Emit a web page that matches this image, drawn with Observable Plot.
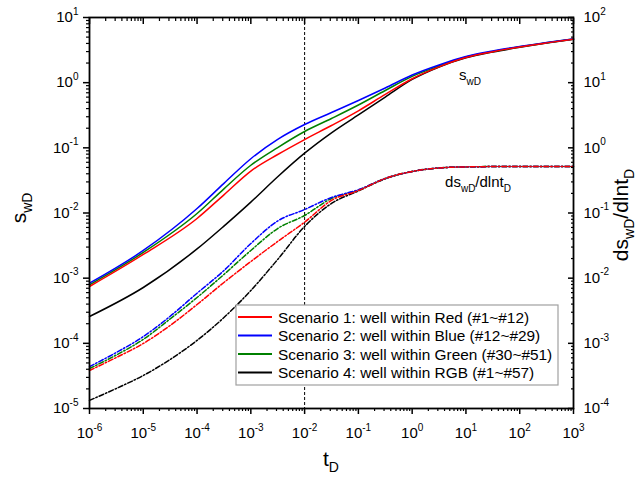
<!DOCTYPE html>
<html><head><meta charset="utf-8">
<script src="https://cdn.jsdelivr.net/npm/d3@7"></script>
<script src="https://cdn.jsdelivr.net/npm/@observablehq/plot@0.6"></script>
<style>html,body{margin:0;padding:0;background:#fff}svg{display:block}</style>
</head><body><div id="chart"></div>
<script>
// ---------- data ----------
const scenarioNames = [
  "Scenario 1: well within Red (#1~#12)",
  "Scenario 2: well within Blue (#12~#29)",
  "Scenario 3: well within Green (#30~#51)",
  "Scenario 4: well within RGB (#1~#57)"
];
const scenarioColors = ["#ff0000", "#0000ff", "#008000", "#000000"];

// dimensionless time for the s_wD curves
const tD = [1e-6, 1e-5, 1e-4, 3.16e-4, 1e-3, 3.16e-3, 1e-2, 3.16e-2, 0.1, 0.316, 1, 3.16, 10, 31.6, 100, 316, 1000];
const sRed   = [7.45e-4, 2.31e-3, 8.24e-3, 1.9e-2, 0.044, 0.079, 0.134, 0.22, 0.37, 0.66, 1.15, 1.75, 2.43, 2.98, 3.53, 4.08, 4.66];
const sBlue  = [8.37e-4, 2.66e-3, 1.17e-2, 2.85e-2, 0.068, 0.135, 0.228, 0.348, 0.532, 0.828, 1.31, 1.87, 2.52, 3.06, 3.59, 4.13, 4.71];
const sGreen = [7.91e-4, 2.48e-3, 9.82e-3, 2.35e-2, 0.054, 0.101, 0.178, 0.282, 0.454, 0.759, 1.25, 1.80, 2.48, 3.01, 3.55, 4.10, 4.68];
const sBlack = [2.58e-4, 7.19e-4, 2.81e-3, 6.3e-3, 1.47e-2, 3.6e-2, 8.28e-2, 0.17, 0.32, 0.60, 1.12, 1.74, 2.41, 2.96, 3.49, 4.05, 4.63];

// dimensionless time for the derivative curves (values in right-axis units)
const tDd = [1e-6, 3.16e-6, 1e-5, 3.16e-5, 1e-4, 3.16e-4, 1e-3, 3.16e-3, 1e-2, 3.16e-2, 0.1, 0.316, 1, 3.16, 10, 100, 1000];
const dRed   = [3.83e-4, 6.07e-4, 9.95e-4, 1.88e-3, 3.94e-3, 8.59e-3, 1.80e-2, 3.66e-2, 7.23e-2, 0.156, 0.221, 0.339, 0.434, 0.491, 0.51, 0.518, 0.518];
const dBlue  = [4.4e-4, 7.24e-4, 1.27e-3, 2.6e-3, 5.88e-3, 1.31e-2, 3.40e-2, 7.54e-2, 0.113, 0.173, 0.227, 0.339, 0.434, 0.491, 0.51, 0.518, 0.518];
const dGreen = [4.11e-4, 6.62e-4, 1.15e-3, 2.37e-3, 5.05e-3, 1.14e-2, 2.66e-2, 5.78e-2, 0.0916, 0.167, 0.225, 0.339, 0.434, 0.491, 0.51, 0.518, 0.518];
const dBlack = [1.33e-4, 2.03e-4, 3.21e-4, 5.65e-4, 1.11e-3, 2.49e-3, 6.47e-3, 1.94e-2, 6.21e-2, 0.14, 0.218, 0.335, 0.434, 0.491, 0.51, 0.518, 0.518];

// tick exponents
const xTickExp = [-6, -5, -4, -3, -2, -1, 0, 1, 2, 3];
const yLeftExp = [-5, -4, -3, -2, -1, 0, 1];
const yRightExp = [-4, -3, -2, -1, 0, 1, 2];
const markerT = 1e-2;

// ---------- tables (drawn black first, red last) ----------
const sSeries = [sRed, sBlue, sGreen, sBlack];
const dSeries = [dRed, dBlue, dGreen, dBlack];
const drawOrder = [3, 2, 1, 0];
const solid = [], deriv = [];
drawOrder.forEach(i => sSeries[i].forEach((v, j) => solid.push({scenario: scenarioNames[i], t: tD[j], s: v})));
drawOrder.forEach(i => dSeries[i].forEach((v, j) => deriv.push({scenario: scenarioNames[i], t: tDd[j], d: v})));

const xMajor = xTickExp.map(e => 10 ** e);
const xMinor = [];
xTickExp.slice(0, -1).forEach(e => { for (let k = 2; k <= 9; k++) xMinor.push(k * 10 ** e); });
const yMajor = yLeftExp.map(e => 10 ** e);
const yMinor = [];
yLeftExp.slice(0, -1).forEach(e => { for (let k = 2; k <= 9; k++) yMinor.push(k * 10 ** e); });
const rightOffset = yRightExp[0] - yLeftExp[0]; // right axis = left axis x 10

const expFmt = d => "10^" + Math.round(Math.log10(d));
const expFmtRight = d => "10^" + (Math.round(Math.log10(d)) + rightOffset);
const blank = () => "";

const FONT = "'Liberation Sans', Arial, Helvetica, sans-serif";

const plot = Plot.plot({
  width: 639, height: 478,
  marginLeft: 89, marginRight: 66, marginTop: 17, marginBottom: 70,
  x: {type: "log", domain: [1e-6, 1e3]},
  y: {type: "log", domain: [1e-5, 1e1]},
  color: {type: "ordinal", domain: scenarioNames, range: scenarioColors},
  style: {fontFamily: FONT, fontSize: "15px", color: "#000", background: "#fff", overflow: "visible"},
  marks: [
    Plot.ruleX([markerT], {stroke: "#000", strokeWidth: 1, strokeDasharray: "3,2"}),
    Plot.line(deriv, {x: "t", y: d => d.d / 10 ** rightOffset, z: "scenario", stroke: "scenario",
      strokeWidth: 1.5, strokeDasharray: "5,2,1.5,2", curve: "monotone-x"}),
    Plot.line(solid, {x: "t", y: "s", z: "scenario", stroke: "scenario", strokeWidth: 1.5, curve: "monotone-x"}),
    // bottom axis (outward ticks)
    Plot.axisX(xMajor, {anchor: "bottom", tickSize: 6, tickPadding: 13, tickFormat: expFmt, label: null, strokeWidth: 1.5}),
    Plot.axisX(xMinor, {anchor: "bottom", tickSize: 3, tickFormat: blank, label: null, strokeWidth: 1.2}),
    // top axis (inward ticks)
    Plot.axisX(xMajor, {anchor: "top", tickSize: -6, tickFormat: blank, label: null, strokeWidth: 1.5}),
    Plot.axisX(xMinor, {anchor: "top", tickSize: -3, tickFormat: blank, label: null, strokeWidth: 1.2}),
    // left axis (outward ticks)
    Plot.axisY(yMajor, {anchor: "left", tickSize: 6, tickPadding: 5, tickFormat: expFmt, label: null, strokeWidth: 1.5}),
    Plot.axisY(yMinor, {anchor: "left", tickSize: 3, tickFormat: blank, label: null, strokeWidth: 1.2}),
    // right axis (inward ticks), labelled in derivative units
    Plot.axisY(yMajor, {anchor: "right", tickSize: -6, tickPadding: 16, tickFormat: expFmtRight, label: null, strokeWidth: 1.5}),
    Plot.axisY(yMinor, {anchor: "right", tickSize: -3, tickFormat: blank, label: null, strokeWidth: 1.2}),
    Plot.frame({stroke: "#000", strokeWidth: 1.8})
  ]
});
document.getElementById("chart").appendChild(plot);

// ---------- superscript tick labels ----------
const svg = d3.select(plot);
svg.selectAll("text").each(function() {
  const txt = this.textContent;
  const m = /^10\^(-?\d+)$/.exec(txt);
  if (!m) return;
  const sel = d3.select(this);
  sel.text(null);
  sel.append("tspan").text("10");
  sel.append("tspan").attr("font-size", "10px").attr("dy", "-0.75em").text(m[1]);
});

// ---------- rich text helper ----------
function rich(x, y, parts, size, subSize, rotate) {
  const t = svg.append("text")
    .attr("font-family", FONT).attr("font-size", size + "px").attr("fill", "#000")
    .attr("text-anchor", "middle")
    .attr("transform", `translate(${x},${y})` + (rotate ? ` rotate(${rotate})` : ""));
  let shifted = 0;
  parts.forEach(p => {
    const sp = t.append("tspan").text(p.t);
    const want = p.sub ? Math.round(size * 0.3) : 0;
    if (want !== shifted) { sp.attr("dy", want - shifted); shifted = want; }
    if (p.sub) sp.attr("font-size", subSize + "px");
  });
  return t;
}

// axis titles
rich(331, 466, [{t: "t"}, {t: "D", sub: true}], 21, 14);
rich(26, 208, [{t: "s"}, {t: "wD", sub: true}], 21, 14, -90);
rich(628, 215, [{t: "ds"}, {t: "wD", sub: true}, {t: "/dlnt"}, {t: "D", sub: true}], 21, 14, -90);

// in-plot annotations
rich(470, 80, [{t: "s"}, {t: "wD", sub: true}], 15, 10);
rich(478, 187, [{t: "ds"}, {t: "wD", sub: true}, {t: "/dlnt"}, {t: "D", sub: true}], 15, 10);

// ---------- legend ----------
const lg = svg.append("g");
lg.append("rect").attr("x", 236).attr("y", 305).attr("width", 322).attr("height", 80)
  .attr("fill", "#fff").attr("stroke", "#a0a0a0").attr("stroke-width", 1.2);
scenarioNames.forEach((name, i) => {
  const yy = 317 + i * 18.5;
  lg.append("line").attr("x1", 238).attr("x2", 272).attr("y1", yy).attr("y2", yy)
    .attr("stroke", scenarioColors[i]).attr("stroke-width", 2);
  lg.append("text").attr("x", 278).attr("y", yy + 5.5).attr("text-anchor", "start")
    .attr("font-family", FONT).attr("font-size", "15.4px").attr("fill", "#000").text(name);
});
</script>
</body></html>
